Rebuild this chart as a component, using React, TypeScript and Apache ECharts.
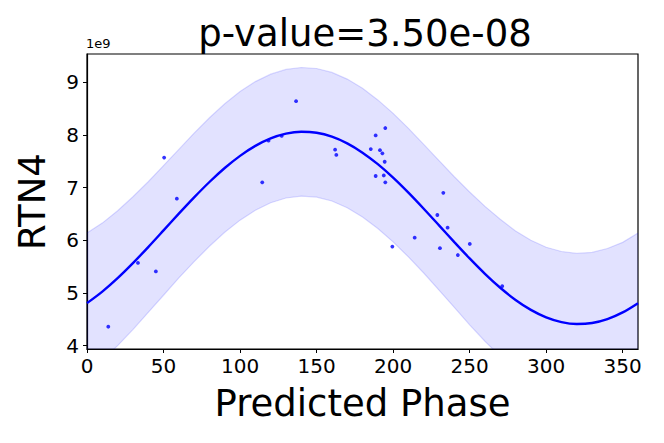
import React, { useEffect, useRef } from "react";
import * as echarts from "echarts";

// Observed samples: predicted phase (degrees) and RTN4 expression (x1e9)
const phases = [13.9, 33.3, 45.0, 50.4, 58.7, 114.5, 118.6, 127.2, 136.6, 162.1, 162.9, 185.4, 188.6, 194.9, 191.4, 193.0, 194.5, 188.6, 193.9, 194.9, 199.5, 214.1, 228.9, 232.8, 235.6, 230.6, 242.3, 250.1, 271.3];
const values = [4.36, 5.57, 5.41, 7.57, 6.79, 7.10, 7.89, 7.98, 8.64, 7.72, 7.62, 7.73, 7.99, 8.13, 7.71, 7.65, 7.49, 7.22, 7.23, 7.10, 5.88, 6.05, 6.48, 6.90, 6.24, 5.85, 5.72, 5.93, 5.13];

// Fitted cosine curve and its band, read every 10 degrees
const curvePhases = [0, 10, 20, 30, 40, 50, 60, 70, 80, 90, 100, 110, 120, 130, 140, 150, 160, 170, 180, 190, 200, 210, 220, 230, 240, 250, 260, 270, 280, 290, 300, 310, 320, 330, 340, 350, 360];
const fitValues = [4.807, 5.026, 5.281, 5.566, 5.871, 6.187, 6.505, 6.814, 7.106, 7.371, 7.602, 7.791, 7.933, 8.023, 8.059, 8.040, 7.966, 7.839, 7.663, 7.444, 7.189, 6.904, 6.599, 6.283, 5.965, 5.656, 5.364, 5.099, 4.868, 4.679, 4.537, 4.447, 4.411, 4.430, 4.504, 4.631, 4.807];
const upperValues = [6.137, 6.326, 6.561, 6.826, 7.111, 7.417, 7.725, 8.034, 8.326, 8.591, 8.822, 9.011, 9.153, 9.243, 9.279, 9.260, 9.186, 9.059, 8.883, 8.664, 8.409, 8.124, 7.819, 7.513, 7.205, 6.916, 6.644, 6.399, 6.178, 5.999, 5.867, 5.787, 5.751, 5.770, 5.844, 5.961, 6.137];
const lowerValues = [3.477, 3.726, 4.001, 4.306, 4.631, 4.957, 5.285, 5.594, 5.886, 6.151, 6.382, 6.571, 6.713, 6.803, 6.839, 6.820, 6.746, 6.619, 6.443, 6.224, 5.969, 5.684, 5.379, 5.053, 4.725, 4.396, 4.084, 3.799, 3.558, 3.359, 3.207, 3.107, 3.071, 3.090, 3.164, 3.301, 3.477];

const xTicks = [0, 50, 100, 150, 200, 250, 300, 350];
const yTicks = [4, 5, 6, 7, 8, 9];

const titleText = "p-value=3.50e-08";
const xName = "Predicted Phase";
const yName = "RTN4";
const offsetText = "1e9";

const FONT = "DejaVu Sans";

export default function App() {
  const ref = useRef<HTMLDivElement>(null);
  useEffect(() => {
    if (!ref.current) return;
    const chart = echarts.init(ref.current, null, { renderer: "svg" });
    const upperData = curvePhases.map((p, i) => [p, upperValues[i]]);
    const lowerData = curvePhases.map((p, i) => [p, lowerValues[i]]);
    const fitData = curvePhases.map((p, i) => [p, fitValues[i]]);
    const scatterData = phases.map((p, i) => [p, values[i]]);
    const edge = "rgba(0,0,255,0.14)";
    chart.setOption({
      animation: false,
      backgroundColor: "#ffffff",
      textStyle: { fontFamily: FONT },
      title: {
        text: titleText,
        left: 360,
        top: 10,
        textAlign: "center",
        textStyle: { fontFamily: FONT, fontSize: 37, fontWeight: "normal", color: "#000" },
      },
      graphic: [
        {
          type: "text",
          left: 86,
          top: 37,
          style: { text: offsetText, font: `13px '${FONT}'`, fill: "#000" },
        },
      ],
      grid: {
        left: 87,
        right: 26,
        top: 54,
        bottom: 94,
        show: true,
        borderColor: "#000",
        borderWidth: 1.2,
        backgroundColor: "transparent",
      },
      xAxis: {
        type: "value",
        min: 0,
        max: 360,
        name: xName,
        nameLocation: "middle",
        nameGap: 36,
        nameTextStyle: { fontFamily: FONT, fontSize: 37, color: "#000", verticalAlign: "top" },
        splitLine: { show: false },
        axisLine: { show: true, lineStyle: { color: "#000", width: 1.2 } },
        axisTick: { show: true, inside: false, length: 4, customValues: xTicks, lineStyle: { color: "#000", width: 1 } },
        axisLabel: { customValues: xTicks, fontFamily: FONT, fontSize: 20, color: "#000", margin: 7 },
      },
      yAxis: {
        type: "value",
        min: 3.937,
        max: 9.535,
        name: yName,
        nameLocation: "middle",
        nameGap: 36,
        nameRotate: 90,
        nameTextStyle: { fontFamily: FONT, fontSize: 37, color: "#000", verticalAlign: "bottom" },
        splitLine: { show: false },
        axisLine: { show: true, lineStyle: { color: "#000", width: 1.2 } },
        axisTick: { show: true, inside: false, length: 4, customValues: yTicks, lineStyle: { color: "#000", width: 1 } },
        axisLabel: { customValues: yTicks, fontFamily: FONT, fontSize: 20, color: "#000", margin: 8 },
      },
      series: [
        {
          type: "custom",
          data: [[0, 0]],
          z: 1,
          silent: true,
          renderItem: (params: any, api: any) => {
            const up = upperData.map((d) => api.coord(d));
            const lo = lowerData.map((d) => api.coord(d)).reverse();
            const cs = params.coordSys;
            const clip = { x: cs.x, y: cs.y, width: cs.width, height: cs.height };
            return {
              type: "group",
              clipPath: { type: "rect", shape: clip },
              children: [
                {
                  type: "polygon",
                  shape: { points: up.concat(lo), smooth: 0 },
                  style: { fill: "rgba(0,0,255,0.115)", stroke: "none" },
                },
                {
                  type: "polyline",
                  shape: { points: up },
                  style: { fill: "none", stroke: edge, lineWidth: 1.2 },
                },
                {
                  type: "polyline",
                  shape: { points: lo },
                  style: { fill: "none", stroke: edge, lineWidth: 1.2 },
                },
              ],
            };
          },
        },
        {
          type: "line",
          data: fitData,
          symbol: "none",
          smooth: 0.3,
          lineStyle: { width: 2.4, color: "#0000ff" },
          z: 3,
        },
        {
          type: "scatter",
          data: scatterData,
          symbol: "circle",
          symbolSize: 3.8,
          itemStyle: { color: "#0000ff" },
          z: 4,
        },
      ],
    });
    return () => chart.dispose();
  }, []);
  return <div ref={ref} style={{ width: 664, height: 443, position: "absolute", left: 0, top: 0 }} />;
}
